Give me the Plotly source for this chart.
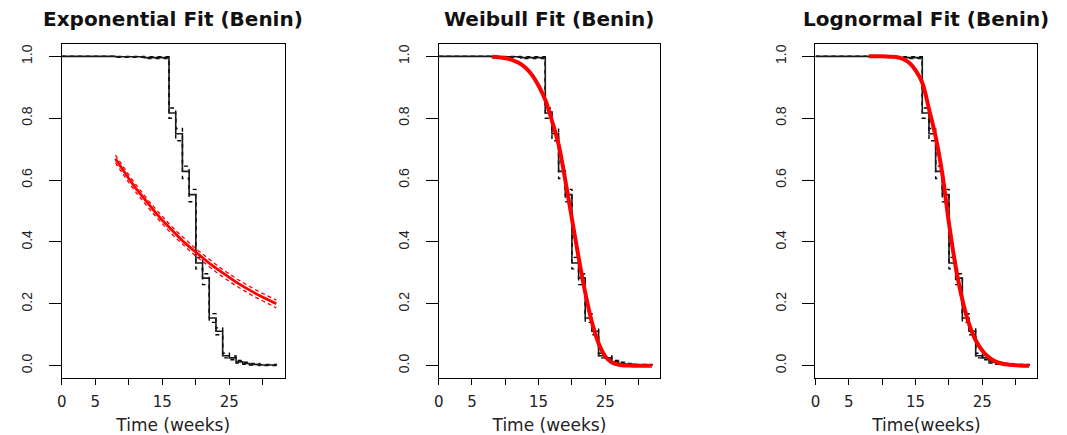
import plotly.graph_objects as go

# ---------------- data ----------------
# Kaplan-Meier estimate (Benin) with 95% confidence limits
km_time = [0, 8, 12.3, 16, 17, 18, 19, 20, 21, 22, 23, 24, 25, 26, 27, 28, 29.5, 32]
km_surv = [1.0, 0.999, 0.996, 0.817, 0.750, 0.628, 0.553, 0.332, 0.283, 0.154, 0.111,
           0.032, 0.025, 0.012, 0.007, 0.004, 0.002, 0.0]
km_upper = [1.0, 1.0, 0.999, 0.833, 0.767, 0.645, 0.570, 0.350, 0.297, 0.168, 0.122,
            0.040, 0.031, 0.017, 0.011, 0.007, 0.004, 0.001]
km_lower = [1.0, 0.997, 0.993, 0.800, 0.727, 0.605, 0.530, 0.313, 0.262, 0.140, 0.100,
            0.025, 0.019, 0.008, 0.004, 0.002, 0.000, 0.0]

# fitted parametric survival curves
fit_time = [8, 9, 10, 11, 12, 13, 14, 15, 16, 17, 18, 19, 20, 21, 22, 23, 24, 25, 26,
            27, 28, 29, 30, 31, 32]
exp_surv = [0.669, 0.636, 0.605, 0.575, 0.547, 0.520, 0.495, 0.470, 0.447, 0.425, 0.404,
            0.385, 0.366, 0.348, 0.331, 0.315, 0.299, 0.284, 0.270, 0.257, 0.244, 0.232,
            0.221, 0.210, 0.200]
exp_upper = [0.681, 0.648, 0.617, 0.587, 0.559, 0.532, 0.507, 0.482, 0.459, 0.437, 0.416,
             0.397, 0.378, 0.360, 0.343, 0.327, 0.311, 0.296, 0.282, 0.269, 0.256, 0.244,
             0.233, 0.222, 0.212]
exp_lower = [0.656, 0.623, 0.592, 0.562, 0.534, 0.508, 0.483, 0.458, 0.435, 0.413, 0.392,
             0.373, 0.354, 0.336, 0.319, 0.303, 0.287, 0.272, 0.258, 0.245, 0.232, 0.220,
             0.209, 0.198, 0.187]
weib_surv = [0.999, 0.997, 0.994, 0.989, 0.979, 0.964, 0.940, 0.905, 0.860, 0.792, 0.715,
             0.600, 0.475, 0.350, 0.236, 0.140, 0.072, 0.030, 0.010, 0.003, 0.0005, 0.0,
             0.0, 0.0, 0.0]
lnorm_surv = [1.0, 1.0, 1.0, 0.999, 0.998, 0.993, 0.980, 0.955, 0.915, 0.830, 0.740,
              0.620, 0.460, 0.320, 0.213, 0.135, 0.082, 0.048, 0.026, 0.013, 0.006, 0.003,
              0.001, 0.0, 0.0]

titles = ["Exponential Fit (Benin)", "Weibull Fit (Benin)", "Lognormal Fit (Benin)"]
xtitles = ["Time (weeks)", "Time (weeks)", "Time(weeks)"]
x_tickvals = [0, 5, 10, 15, 20, 25, 30]
x_ticktext = ["0", "5", "", "15", "", "25", ""]
y_tickvals = [0.0, 0.2, 0.4, 0.6, 0.8, 1.0]
y_ticktext = ["0.0", "0.2", "0.4", "0.6", "0.8", "1.0"]

# ---------------- figure ----------------
W, H = 1067, 435
x_domains = [[57 / W, 281 / W], [435.7 / W, 658.3 / W], [814.3 / W, 1037.3 / W]]
y_domain = [57 / H, 391 / H]

fig = go.Figure()

for i in range(3):
    xa = "x" if i == 0 else f"x{i+1}"
    ya = "y" if i == 0 else f"y{i+1}"
    # KM curve and CI
    fig.add_trace(go.Scatter(x=km_time, y=km_upper, mode="lines", line_shape="hv",
                             line=dict(color="black", width=1.4, dash="4px,4px"),
                             xaxis=xa, yaxis=ya, showlegend=False, hoverinfo="skip"))
    fig.add_trace(go.Scatter(x=km_time, y=km_lower, mode="lines", line_shape="hv",
                             line=dict(color="black", width=1.4, dash="4px,4px"),
                             xaxis=xa, yaxis=ya, showlegend=False, hoverinfo="skip"))
    fig.add_trace(go.Scatter(x=km_time, y=km_surv, mode="lines", line_shape="hv",
                             line=dict(color="#1a1a1a", width=1.6),
                             xaxis=xa, yaxis=ya, showlegend=False))
    if i == 0:
        fig.add_trace(go.Scatter(x=fit_time, y=exp_upper, mode="lines",
                                 line=dict(color="red", width=1.3, dash="4px,3px"),
                                 xaxis=xa, yaxis=ya, showlegend=False, hoverinfo="skip"))
        fig.add_trace(go.Scatter(x=fit_time, y=exp_lower, mode="lines",
                                 line=dict(color="red", width=1.3, dash="4px,3px"),
                                 xaxis=xa, yaxis=ya, showlegend=False, hoverinfo="skip"))
        fig.add_trace(go.Scatter(x=fit_time, y=exp_surv, mode="lines",
                                 line=dict(color="red", width=2.8),
                                 xaxis=xa, yaxis=ya, showlegend=False))
    elif i == 1:
        fig.add_trace(go.Scatter(x=fit_time, y=weib_surv, mode="lines", line_shape="spline",
                                 line=dict(color="red", width=4),
                                 xaxis=xa, yaxis=ya, showlegend=False))
    else:
        fig.add_trace(go.Scatter(x=fit_time, y=lnorm_surv, mode="lines", line_shape="spline",
                                 line=dict(color="red", width=4),
                                 xaxis=xa, yaxis=ya, showlegend=False))

axis_common = dict(showline=True, mirror=True, linecolor="black", linewidth=1.3,
                   showgrid=False, zeroline=False, ticks="outside", tickcolor="black",
                   tickwidth=1.3)

layout = dict(width=W, height=H, margin=dict(l=0, r=0, t=0, b=0),
              paper_bgcolor="white", plot_bgcolor="white", showlegend=False)

for i in range(3):
    xk = "xaxis" if i == 0 else f"xaxis{i+1}"
    yk = "yaxis" if i == 0 else f"yaxis{i+1}"
    layout[xk] = dict(axis_common, domain=x_domains[i], range=[0, 33.25],
                      tickvals=x_tickvals, ticktext=x_ticktext, ticklen=6,
                      ticklabelstandoff=4,
                      tickfont=dict(family="DejaVu Sans", size=15, color="#222"),
                      title=dict(text=xtitles[i], standoff=9,
                                 font=dict(family="DejaVu Sans", size=17, color="#222")),
                      anchor="y" if i == 0 else f"y{i+1}")
    layout[yk] = dict(axis_common, domain=y_domain, range=[-0.04, 1.04],
                      tickvals=y_tickvals, ticktext=y_ticktext, ticklen=12,
                      tickangle=-90, ticklabelstandoff=11,
                      tickfont=dict(family="Liberation Sans", size=14, color="#222"),
                      anchor="x" if i == 0 else f"x{i+1}")

fig.update_layout(**layout)

for i in range(3):
    fig.add_annotation(text=f"<b>{titles[i]}</b>", xref="paper", yref="paper",
                       x=(x_domains[i][0] + x_domains[i][1]) / 2, y=1 - 19 / H,
                       xanchor="center", yanchor="middle", showarrow=False,
                       font=dict(family="DejaVu Sans", size=20, color="#111"))

fig.write_html("out.html")
